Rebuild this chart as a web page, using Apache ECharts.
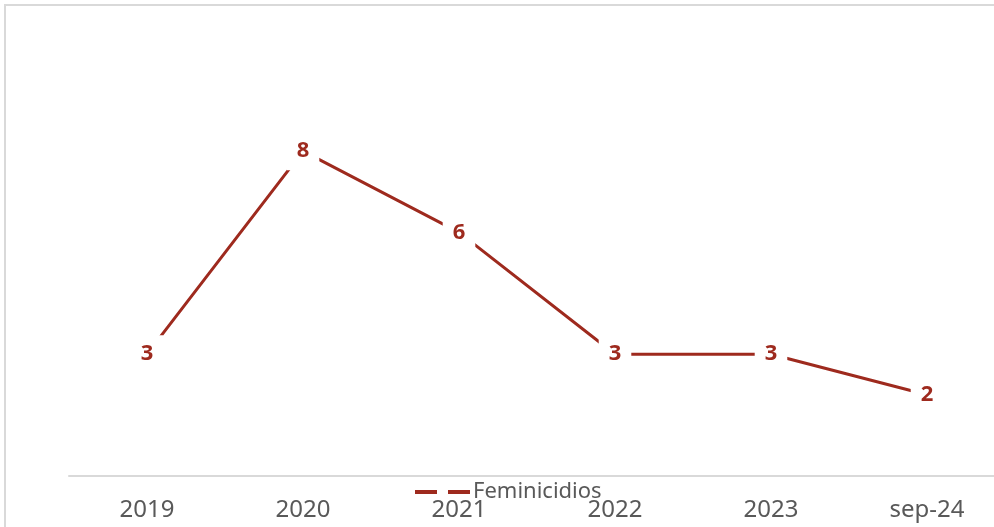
<!DOCTYPE html>
<html><head><meta charset="utf-8">
<script src="https://cdn.jsdelivr.net/npm/echarts@6/dist/echarts.min.js"></script>
<style>html,body{margin:0;padding:0;background:#fff}#c{width:994px;height:527px}</style>
</head><body><div id="c"></div>
<script>
const categories = ['2019','2020','2021','2022','2023','sep-24'];
const values = [3, 8, 6, 3, 3, 2];
const seriesName = 'Feminicidios';

const chart = echarts.init(document.getElementById('c'));
const red = '#9E2A1E';
const font = '"Noto Sans", "DejaVu Sans", sans-serif';
chart.setOption({
  animation: false,
  backgroundColor: '#fff',
  graphic: [{
    type: 'rect', shape: {x: 5, y: 5, width: 1100, height: 700},
    style: {fill: 'none', stroke: '#d9d9d9', lineWidth: 2}, silent: true, z: -1
  }],
  grid: {left: 69, width: 936, top: 70, height: 406, outerBoundsMode: 'none', containLabel: false},
  xAxis: {
    type: 'category', data: categories, boundaryGap: true,
    axisLine: {lineStyle: {color: '#d9d9d9', width: 2}},
    axisTick: {show: false},
    axisLabel: {color: '#595959', fontSize: 24, fontFamily: font, margin: 22}
  },
  yAxis: {
    type: 'value', min: 0, max: 10, show: false,
    splitLine: {show: false}
  },
  legend: {
    left: 410, top: 476, itemGap: 2,
    icon: 'path://M0,0h22v4h-22z M33,0h22v4h-22z',
    itemWidth: 55, itemHeight: 4,
    textStyle: {color: '#595959', fontSize: 22, fontFamily: font, padding: [0, 0, 0, -2]},
    data: [{name: seriesName, itemStyle: {color: red, opacity: 1, borderWidth: 0}}]
  },
  series: [{
    name: seriesName, type: 'line', data: values,
    symbol: 'circle', symbolSize: 1, showSymbol: true,
    lineStyle: {color: red, width: 3},
    itemStyle: {color: 'rgba(0,0,0,0)', borderWidth: 0},
    label: {
      show: true, position: 'inside', color: red, fontWeight: 'bold',
      fontSize: 22, fontFamily: font,
      backgroundColor: '#fff', padding: [8, 10]
    }
  }]
});
</script></body></html>
